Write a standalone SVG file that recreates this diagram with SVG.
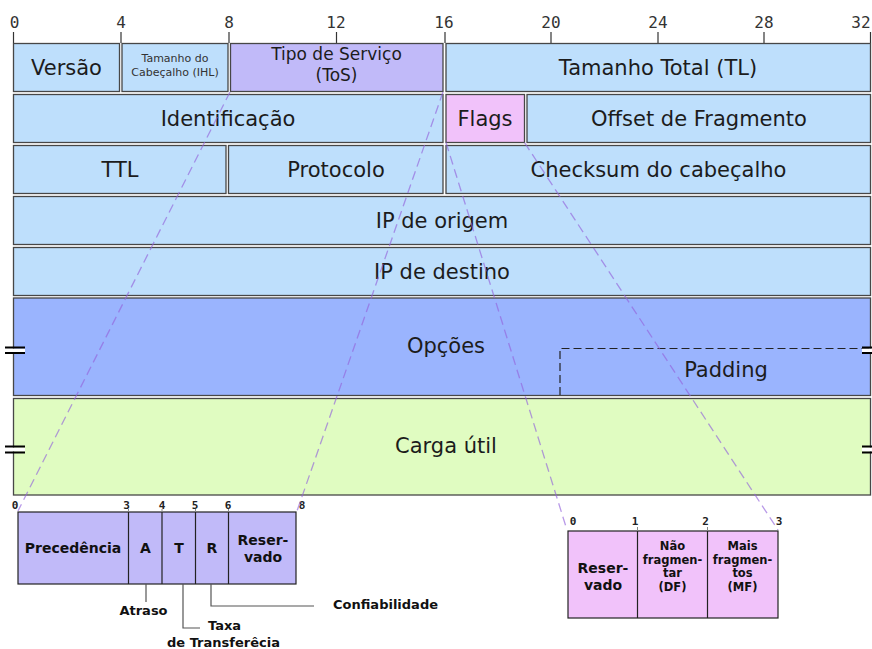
<svg xmlns="http://www.w3.org/2000/svg" width="872" height="649" viewBox="0 0 872 649">
<style>
.box{stroke:#474747;stroke-width:1.3}
.blue{fill:#BEDFFC}
.tos{fill:#C1BAF9}
.flag{fill:#F1C2FA}
.opt{fill:#9AB4FE}
.load{fill:#E0FCC1}
.t{font-family:"DejaVu Sans",sans-serif;font-size:21px;fill:#1c1c1c;text-anchor:middle}
.s{font-size:11px;fill:#333}
.m{font-size:17px}
.b{font-family:"DejaVu Sans",sans-serif;font-weight:bold;font-size:14px;fill:#111;text-anchor:middle}
.b12{font-size:11.5px}
.cap{font-family:"DejaVu Sans",sans-serif;font-weight:bold;font-size:13px;fill:#111}
.n{font-family:"DejaVu Sans Mono",monospace;font-size:16px;fill:#333;text-anchor:middle}
.nb{font-family:"DejaVu Sans Mono",monospace;font-size:11px;font-weight:bold;fill:#222;text-anchor:middle}
.tick{stroke:#333;stroke-width:1.2}
.proj{stroke:#9464DC;stroke-opacity:.65;stroke-width:1.3;stroke-dasharray:9 5;fill:none}
.call{stroke:#555;stroke-width:1.2;fill:none}
.dbox{stroke:#222;stroke-width:1.2}
.brk{stroke:#000;stroke-width:2}
</style>

<rect width="872" height="649" fill="#fff"/>

<!-- bit ruler -->
<g id="ruler">
  <g class="tick">
    <line x1="13.5" y1="32" x2="13.5" y2="43"/>
    <line x1="121" y1="32" x2="121" y2="43"/>
    <line x1="229" y1="32" x2="229" y2="43"/>
    <line x1="336.5" y1="32" x2="336.5" y2="43"/>
    <line x1="445" y1="32" x2="445" y2="43"/>
    <line x1="551" y1="32" x2="551" y2="43"/>
    <line x1="658" y1="32" x2="658" y2="43"/>
    <line x1="764" y1="32" x2="764" y2="43"/>
    <line x1="870.5" y1="32" x2="870.5" y2="43"/>
  </g>
  <text class="n" x="14.5" y="28">0</text>
  <text class="n" x="121" y="28">4</text>
  <text class="n" x="229" y="28">8</text>
  <text class="n" x="336" y="28">12</text>
  <text class="n" x="444" y="28">16</text>
  <text class="n" x="551" y="28">20</text>
  <text class="n" x="658" y="28">24</text>
  <text class="n" x="764" y="28">28</text>
  <text class="n" x="861" y="28">32</text>
</g>

<!-- header row 1 -->
<g id="versao"><rect class="box blue" x="13.5" y="43.5" width="106" height="48"/><text class="t" x="66.5" y="75">Versão</text></g>
<g id="ihl"><rect class="box blue" x="122" y="43.5" width="106" height="48"/><text class="t s" x="175" y="62">Tamanho do</text><text class="t s" x="175" y="76">Cabeçalho (IHL)</text></g>
<g id="tos"><rect class="box tos" x="230.5" y="43.5" width="212.5" height="48"/><text class="t m" x="336.5" y="60">Tipo de Serviço</text><text class="t m" x="336.5" y="81">(ToS)</text></g>
<g id="tl"><rect class="box blue" x="446" y="43.5" width="424.5" height="48"/><text class="t" x="658" y="75">Tamanho Total (TL)</text></g>

<!-- row 2 -->
<g id="identificacao"><rect class="box blue" x="13.5" y="94.5" width="429.5" height="48"/><text class="t" x="228" y="126">Identificação</text></g>
<g id="flags"><rect class="box flag" x="446" y="94.5" width="78.5" height="48"/><text class="t" x="485" y="126">Flags</text></g>
<g id="offset"><rect class="box blue" x="527" y="94.5" width="343.5" height="48"/><text class="t" x="699" y="126">Offset de Fragmento</text></g>

<!-- row 3 -->
<g id="ttl"><rect class="box blue" x="13.5" y="145.5" width="212.5" height="48"/><text class="t" x="120" y="177">TTL</text></g>
<g id="protocolo"><rect class="box blue" x="228.5" y="145.5" width="214.5" height="48"/><text class="t" x="336" y="177">Protocolo</text></g>
<g id="checksum"><rect class="box blue" x="446" y="145.5" width="424.5" height="48"/><text class="t" x="658.5" y="177">Checksum do cabeçalho</text></g>

<!-- addresses -->
<g id="ip-origem"><rect class="box blue" x="13.5" y="196.5" width="857" height="48"/><text class="t" x="442" y="228">IP de origem</text></g>
<g id="ip-destino"><rect class="box blue" x="13.5" y="247.5" width="857" height="48"/><text class="t" x="442" y="279">IP de destino</text></g>

<!-- options and payload -->
<g id="opcoes">
  <rect class="box opt" x="13.5" y="298" width="857" height="97.5"/>
  <text class="t" x="446" y="352.5">Opções</text>
  <path d="M560 395 V348.5 H871" fill="none" stroke="#222" stroke-width="1.2" stroke-dasharray="8 4"/>
  <text class="t" x="726" y="377">Padding</text>
</g>
<g id="carga">
  <rect class="box load" x="13.5" y="398.5" width="857" height="96.5"/>
  <text class="t" x="446" y="452.5">Carga útil</text>
</g>

<!-- break marks on the variable-length rows -->
<g id="breaks">
  <rect x="5" y="348.5" width="20" height="4" fill="#fff"/>
  <line class="brk" x1="5" y1="347.5" x2="25" y2="347.5"/><line class="brk" x1="5" y1="353" x2="25" y2="353"/>
  <rect x="862" y="348.5" width="10" height="4" fill="#fff"/>
  <line class="brk" x1="862" y1="347.5" x2="872" y2="347.5"/><line class="brk" x1="862" y1="353" x2="872" y2="353"/>
  <rect x="5" y="447.5" width="20" height="4" fill="#fff"/>
  <line class="brk" x1="5" y1="446.5" x2="25" y2="446.5"/><line class="brk" x1="5" y1="452.5" x2="25" y2="452.5"/>
  <rect x="862" y="447.5" width="10" height="4" fill="#fff"/>
  <line class="brk" x1="862" y1="446.5" x2="872" y2="446.5"/><line class="brk" x1="862" y1="452.5" x2="872" y2="452.5"/>
</g>

<!-- ToS breakdown -->
<g id="tos-detail">
  <rect class="dbox tos" x="18" y="512" width="278" height="72"/>
  <g class="dbox"><line x1="128.5" y1="512" x2="128.5" y2="584"/><line x1="162" y1="512" x2="162" y2="584"/><line x1="195.5" y1="512" x2="195.5" y2="584"/><line x1="228.5" y1="512" x2="228.5" y2="584"/></g>
  <g stroke="#888" stroke-width="1"><line x1="128.5" y1="509" x2="128.5" y2="512"/><line x1="162" y1="509" x2="162" y2="512"/><line x1="195.5" y1="509" x2="195.5" y2="512"/><line x1="228.5" y1="509" x2="228.5" y2="512"/></g>
  <text class="nb" x="15" y="509">0</text>
  <text class="nb" x="126.5" y="509">3</text>
  <text class="nb" x="162" y="509">4</text>
  <text class="nb" x="195" y="509">5</text>
  <text class="nb" x="228" y="509">6</text>
  <text class="nb" x="302" y="509">8</text>
  <text class="b" x="73" y="553">Precedência</text>
  <text class="b" x="145.5" y="553">A</text>
  <text class="b" x="179" y="553">T</text>
  <text class="b" x="212" y="553">R</text>
  <text class="b" x="263" y="545">Reser-</text>
  <text class="b" x="263" y="562">vado</text>
</g>

<!-- Flags breakdown -->
<g id="flags-detail">
  <rect class="dbox flag" x="568" y="531" width="210" height="87"/>
  <g class="dbox"><line x1="637.5" y1="531" x2="637.5" y2="618"/><line x1="707.5" y1="531" x2="707.5" y2="618"/></g>
  <g stroke="#888" stroke-width="1"><line x1="637.5" y1="527" x2="637.5" y2="531"/><line x1="707.5" y1="527" x2="707.5" y2="531"/></g>
  <text class="nb" x="573" y="525">0</text>
  <text class="nb" x="635" y="525">1</text>
  <text class="nb" x="705.5" y="525">2</text>
  <text class="nb" x="779" y="525">3</text>
  <text class="b" x="603" y="573">Reser-</text>
  <text class="b" x="603" y="590">vado</text>
  <text class="b b12" x="672.5" y="550">Não</text>
  <text class="b b12" x="672.5" y="563.5">fragmen-</text>
  <text class="b b12" x="672.5" y="577">tar</text>
  <text class="b b12" x="672.5" y="590.5">(DF)</text>
  <text class="b b12" x="742.5" y="550">Mais</text>
  <text class="b b12" x="742.5" y="563.5">fragmen-</text>
  <text class="b b12" x="742.5" y="577">tos</text>
  <text class="b b12" x="742.5" y="590.5">(MF)</text>
</g>

<!-- callout labels -->
<g id="atraso"><text class="cap" x="143.5" y="615" text-anchor="middle">Atraso</text></g>
<g id="taxa"><text class="cap" x="208" y="630">Taxa</text><text class="cap" x="167" y="647">de Transferêcia</text></g>
<g id="confiabilidade"><text class="cap" x="333" y="609">Confiabilidade</text></g>

<!-- connectors -->
<g id="connectors">
  <line class="proj" x1="230" y1="92" x2="18" y2="511"/>
  <line class="proj" x1="443" y1="92" x2="297" y2="511"/>
  <line class="proj" x1="446" y1="142.5" x2="567" y2="530"/>
  <line class="proj" x1="524.5" y1="142.5" x2="778" y2="530"/>
  <path class="call" d="M146 584 V602"/>
  <path class="call" d="M183 584 V628 H200"/>
  <path class="call" d="M211 584 V606 H314"/>
</g>
</svg>
